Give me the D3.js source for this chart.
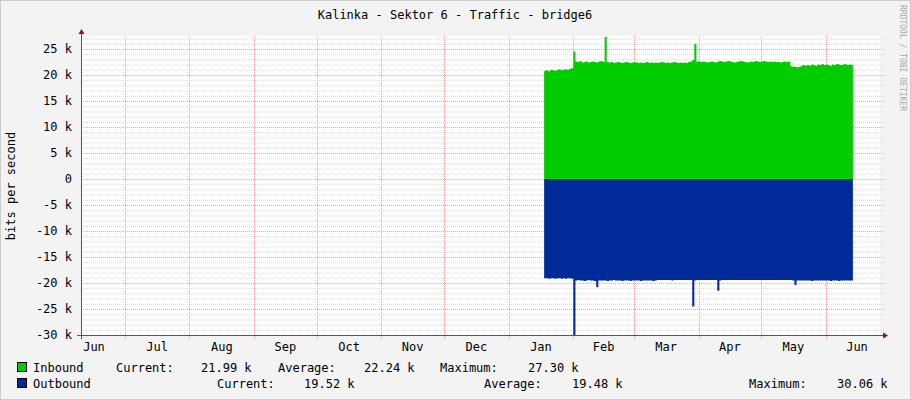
<!DOCTYPE html>
<html><head><meta charset="utf-8">
<script src="https://cdn.jsdelivr.net/npm/d3@7"></script>
<style>
body{margin:0;background:#f3f3f3}
text{font-family:"DejaVu Sans Mono",monospace;font-size:12px;fill:#000}
</style></head><body>
<svg id="g" width="911" height="400"></svg>
<script>
// time range of the graph
const rangeStart = "2023-06-10", rangeEnd = "2024-06-27";
const firstDay = "2024-01-18";
// daily inbound values, kbit/s, starting at firstDay
const inbound = [20.8,20.9,20.7,21.0,20.9,20.8,21.0,21.1,20.9,21.0,21.1,21.0,21.2,21.3,
  24.5,22.6,22.5,22.7,22.4,22.5,22.6,22.4,22.5,22.6,22.5,22.4,22.6,22.7,22.5,27.3,
  22.5,22.4,22.5,22.3,22.4,22.5,22.4,22.3,22.4,22.5,22.4,22.3,22.4,22.5,22.4,22.3,
  22.4,22.3,22.4,22.5,22.3,22.4,22.3,22.4,22.3,22.4,22.5,22.4,22.3,22.4,22.3,22.4,
  22.5,22.4,22.3,22.4,22.3,22.4,22.3,22.5,22.6,22.9,26.0,22.6,22.6,22.5,22.6,22.5,
  22.4,22.5,22.6,22.5,22.4,22.6,22.7,22.6,22.5,22.6,22.7,22.6,22.5,22.4,22.5,22.6,
  22.7,22.6,22.5,22.4,22.5,22.6,22.5,22.7,22.6,22.5,22.6,22.7,22.6,22.5,22.6,22.5,
  22.6,22.5,22.5,22.4,22.5,22.6,22.5,22.6,21.7,21.6,21.6,21.5,21.6,21.8,21.9,21.8,
  21.9,21.8,22.0,21.9,21.8,22.0,21.9,22.1,21.9,22.0,21.9,21.8,22.0,21.9,22.1,22.0,
  21.9,22.0,22.1,21.9,22.0,21.99];
// daily outbound values, kbit/s (drawn below zero)
const outbound = [19.1,19.1,19.2,19.1,19.1,19.2,19.1,19.1,19.2,19.1,19.2,19.1,19.1,19.2,
  30.06,19.5,19.4,19.5,19.5,19.6,19.5,19.4,19.5,19.5,19.6,20.8,19.5,19.5,19.5,19.5,
  19.6,19.5,19.5,19.4,19.5,19.5,19.5,19.6,19.5,19.5,19.5,19.6,19.5,19.5,19.5,19.5,
  19.6,19.5,19.5,19.5,19.5,19.5,19.6,19.5,19.4,19.4,19.4,19.4,19.4,19.4,19.4,19.5,
  19.4,19.4,19.4,19.4,19.4,19.4,19.4,19.4,19.4,24.5,19.5,19.4,19.4,19.4,19.4,19.4,
  19.4,19.4,19.4,19.4,19.4,21.5,19.5,19.4,19.4,19.4,19.4,19.4,19.4,19.4,19.4,19.4,
  19.4,19.4,19.4,19.4,19.4,19.4,19.4,19.4,19.4,19.4,19.4,19.4,19.4,19.4,19.4,19.4,
  19.4,19.4,19.4,19.4,19.4,19.4,19.4,19.4,19.4,19.5,20.4,19.5,19.5,19.5,19.5,19.5,
  19.5,19.5,19.6,19.5,19.5,19.5,19.5,19.5,19.5,19.5,19.5,19.6,19.5,19.5,19.5,19.6,
  19.5,19.5,19.5,19.5,19.5,19.52];
const yTicks = [25,20,15,10,5,0,-5,-10,-15,-20,-25,-30];
const monthLabels = ["Jun","Jul","Aug","Sep","Oct","Nov","Dec","Jan","Feb","Mar","Apr","May","Jun"];

const svg = d3.select("#g");
const L = 81, R = 880, T = 36, B = 335;
const day0 = new Date(firstDay + "T00:00");
const rows = inbound.map((v, i) => ({t: d3.timeDay.offset(day0, i), i: v, o: outbound[i]}));
rows.push({t: d3.timeDay.offset(day0, inbound.length), i: inbound[inbound.length-1], o: outbound[outbound.length-1]});

const x = d3.scaleTime().domain([new Date(rangeStart+"T00:00"), new Date(rangeEnd+"T00:00")]).range([L, R]);
const y = d3.scaleLinear().domain([-30, 27.5]).range([B, T]);

// frame
svg.append("rect").attr("x",0.5).attr("y",0.5).attr("width",910).attr("height",399).attr("fill","#f3f3f3").attr("stroke","#ccc");
svg.append("rect").attr("x",L).attr("y",T).attr("width",R-L).attr("height",B-T).attr("fill","#fff");

// grid
for (let k = -30; k <= 27; k++) {
  const major = k % 5 === 0;
  svg.append("line").attr("x1",L).attr("x2",R+4).attr("y1",y(k)+0.5).attr("y2",y(k)+0.5)
    .attr("stroke", major ? "#f4a0a0" : "#d8d8d8").attr("stroke-dasharray","1,1");
}
const months = d3.timeMonth.range(x.domain()[0], x.domain()[1]);
months.forEach(m => svg.append("line").attr("x1",Math.round(x(m))+0.5).attr("x2",Math.round(x(m))+0.5)
  .attr("y1",T).attr("y2",B+4).attr("stroke","#f4a0a0").attr("stroke-dasharray","1,1"));

// areas
const area = d3.area().curve(d3.curveStepAfter).x(d => x(d.t));
svg.append("path").datum(rows).attr("fill","#00cc00").attr("d", area.y0(y(0)).y1(d => y(d.i)));
svg.append("path").datum(rows).attr("fill","#002a97").attr("d", area.y0(y(0)).y1(d => y(-d.o)));

// axes
svg.append("line").attr("x1",L+0.5).attr("x2",L+0.5).attr("y1",B+4).attr("y2",T-6).attr("stroke","#555");
svg.append("line").attr("x1",L-4).attr("x2",R+4).attr("y1",B+0.5).attr("y2",B+0.5).attr("stroke","#555");
svg.append("path").attr("d",`M${L-2.5},${T-2}L${L+3.5},${T-2}L${L+0.5},${T-7}Z`).attr("fill","#a01010");
svg.append("path").attr("d",`M${R+3},${B-2.5}L${R+3},${B+3.5}L${R+8},${B+0.5}Z`).attr("fill","#a01010");
svg.append("g").selectAll("text").data(yTicks).join("text")
  .attr("x",72).attr("y",d => y(d)+4).attr("text-anchor","end")
  .text(d => d === 0 ? "0" : d + " k");
svg.append("g").selectAll("text").data(monthLabels).join("text")
  .attr("x",(d,i) => {
    const a = d3.timeMonth.offset(new Date("2023-06-01T00:00"), i), b = d3.timeMonth.offset(a, 1);
    return (x(a) + x(b)) / 2;
  })
  .attr("y",351).attr("text-anchor","middle").text(d => d)
  .attr("x", function(d,i){ const v = +d3.select(this).attr("x"); return i === 0 ? 94 : (i === 12 ? 857 : v); });

// titles
svg.append("text").attr("x",455).attr("y",19).attr("text-anchor","middle").text("Kalinka - Sektor 6 - Traffic - bridge6");
svg.append("text").attr("transform","translate(15,186) rotate(-90)").attr("text-anchor","middle").text("bits per second");
svg.append("text").attr("transform","translate(900,5) rotate(90)").style("font-size","8px").style("fill","#aaa").text("RRDTOOL / TOBI OETIKER");

// legend
svg.append("rect").attr("x",17.5).attr("y",362.5).attr("width",9).attr("height",9).attr("fill","#00cc00").attr("stroke","#000");
svg.append("rect").attr("x",17.5).attr("y",378.5).attr("width",9).attr("height",9).attr("fill","#002a97").attr("stroke","#000");
const leg = [
  [33,372,"Inbound"],[116,372,"Current:"],[201,372,"21.99 k"],[278,372,"Average:"],[364,372,"22.24 k"],[440,372,"Maximum:"],[528,372,"27.30 k"],
  [33,388,"Outbound"],[217,388,"Current:"],[304,388,"19.52 k"],[484,388,"Average:"],[572,388,"19.48 k"],[749,388,"Maximum:"],[837,388,"30.06 k"]
];
svg.append("g").selectAll("text").data(leg).join("text").attr("x",d=>d[0]).attr("y",d=>d[1]).text(d=>d[2]);
</script></body></html>
